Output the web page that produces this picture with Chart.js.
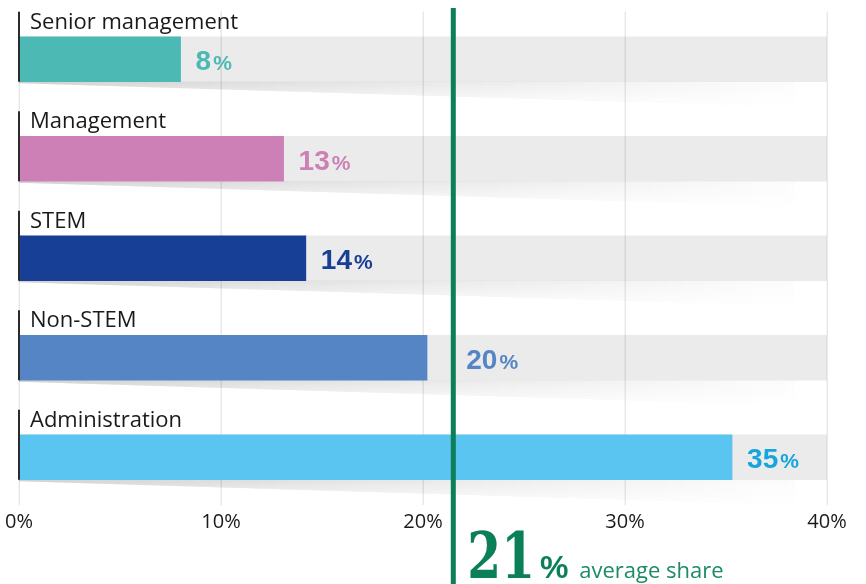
<!DOCTYPE html>
<html>
<head>
<meta charset="utf-8">
<script src="https://cdn.jsdelivr.net/npm/chart.js@4/dist/chart.umd.min.js"></script>
<style>
  html, body { margin: 0; padding: 0; background: #fff; }
  #wrap { width: 866px; height: 584px; position: relative; }
</style>
</head>
<body>
<div id="wrap"><canvas id="shareChart"></canvas></div>
<script>
// data
const categories = ['Senior management', 'Management', 'STEM', 'Non-STEM', 'Administration'];
const shares = [8, 13.1, 14.2, 20.2, 35.3];
const trackValues = [40, 40, 40, 40, 40];
const xTicks = [0, 10, 20, 30, 40];
const averageShare = 21.5;
const averageText = '21';

const barColors = ['#4db9b5', '#cd80b5', '#173f96', '#5585c4', '#5bc5f2'];
const valueColors = ['#4db9b5', '#cd80b5', '#173f96', '#5585c4', '#17a5de'];
const green = '#0b7f57';

const labelFont = '400 22px "Open Sans", sans-serif';

// draws shadows + gridlines after the grey track, labels and avg line on top
const decorPlugin = {
  id: 'decor',
  afterDatasetDraw(chart, args) {
    if (args.index !== 1) return;
    const ctx = chart.ctx;
    const x = chart.scales.x;
    const area = chart.chartArea;
    const meta = chart.getDatasetMeta(1);
    const shadowEnd = x.getPixelForValue(38.4);

    meta.data.forEach(bar => {
      const bottom = bar.y + bar.height / 2;
      const left = bar.base;
      ctx.save();
      ctx.beginPath();
      ctx.moveTo(left, bottom);
      ctx.lineTo(shadowEnd, bottom);
      ctx.lineTo(shadowEnd, bottom + 25);
      ctx.lineTo(left, bottom + 1.5);
      ctx.closePath();
      const g = ctx.createLinearGradient(left, 0, shadowEnd, 0);
      g.addColorStop(0, 'rgba(0,0,0,0.2)');
      g.addColorStop(0.5, 'rgba(0,0,0,0.1)');
      g.addColorStop(1, 'rgba(0,0,0,0.01)');
      ctx.fillStyle = g;
      ctx.fill();
      const v = ctx.createLinearGradient(0, bottom, 0, bottom + 25);
      v.addColorStop(0, 'rgba(255,255,255,0.1)');
      v.addColorStop(1, 'rgba(255,255,255,0.9)');
      ctx.fillStyle = v;
      ctx.fill();
      ctx.restore();
    });

    ctx.save();
    ctx.strokeStyle = 'rgba(0,0,0,0.09)';
    ctx.lineWidth = 1.5;
    xTicks.forEach(t => {
      const px = Math.round(x.getPixelForValue(t)) + 0.25;
      ctx.beginPath();
      ctx.moveTo(px, area.top + 2);
      ctx.lineTo(px, area.bottom - 2);
      ctx.stroke();
    });
    ctx.restore();
  },
  afterDraw(chart) {
    const ctx = chart.ctx;
    const x = chart.scales.x;
    const meta = chart.getDatasetMeta(0);
    const avgPx = x.getPixelForValue(averageShare);

    meta.data.forEach((bar, i) => {
      const top = bar.y - bar.height / 2;
      const bottom = bar.y + bar.height / 2;
      ctx.save();
      // dark rule left of the category label
      ctx.strokeStyle = '#2b2b2b';
      ctx.lineWidth = 2;
      ctx.beginPath();
      ctx.moveTo(bar.base, top - 25);
      ctx.lineTo(bar.base, bottom);
      ctx.stroke();

      ctx.fillStyle = '#1a1a1a';
      ctx.font = labelFont;
      ctx.textBaseline = 'alphabetic';
      ctx.fillText(categories[i], bar.base + 11, top - 8);

      // value label
      const num = String(Math.round(shares[i]));
      ctx.font = 'bold 28px "Liberation Sans", sans-serif';
      const nw = ctx.measureText(num).width;
      ctx.font = 'bold 21px "Liberation Sans", sans-serif';
      const pw = ctx.measureText('%').width;
      let lx = bar.x + 15;
      if (lx < avgPx + 6 && lx + nw + pw + 2 > avgPx - 6) lx = avgPx + 13;
      ctx.fillStyle = valueColors[i];
      ctx.font = 'bold 28px "Liberation Sans", sans-serif';
      ctx.fillText(num, lx, bar.y + 11);
      ctx.font = 'bold 21px "Liberation Sans", sans-serif';
      ctx.fillText('%', lx + nw + 2, bar.y + 11);
      ctx.restore();
    });

    // average line
    ctx.save();
    ctx.strokeStyle = green;
    ctx.lineWidth = 5;
    ctx.beginPath();
    ctx.moveTo(avgPx, 8);
    ctx.lineTo(avgPx, chart.height);
    ctx.stroke();

    ctx.fillStyle = green;
    ctx.textBaseline = 'alphabetic';
    ctx.save();
    ctx.translate(avgPx + 14, 578);
    ctx.scale(0.76, 1);
    ctx.font = 'bold 64px "DejaVu Serif", serif';
    ctx.fillText(averageText, 0, 0);
    const w21 = ctx.measureText(averageText).width * 0.76;
    ctx.restore();
    ctx.font = 'bold 32px "Liberation Sans", sans-serif';
    ctx.fillText('%', avgPx + 14 + w21 + 5, 578);
    ctx.fillStyle = '#1b8c63';
    ctx.font = '400 22px "Open Sans", sans-serif';
    ctx.fillText('average share', avgPx + 126, 578);
    ctx.restore();
  }
};

new Chart(document.getElementById('shareChart'), {
  type: 'bar',
  data: {
    labels: categories,
    datasets: [
      {
        data: shares,
        backgroundColor: barColors,
        barThickness: 45,
        grouped: false,
        order: 1
      },
      {
        data: trackValues,
        backgroundColor: '#ebebeb',
        barThickness: 45,
        grouped: false,
        order: 2
      }
    ]
  },
  options: {
    indexAxis: 'y',
    responsive: true,
    maintainAspectRatio: false,
    animation: false,
    layout: { padding: { top: 9.5, left: 19, right: 39, bottom: 47 } },
    plugins: {
      legend: { display: false },
      tooltip: { enabled: false }
    },
    scales: {
      x: {
        min: 0,
        max: 40,
        afterBuildTicks(axis) {
          axis.ticks = xTicks.map(v => ({ value: v }));
        },
        grid: { display: false, drawTicks: false },
        border: { display: false },
        ticks: {
          padding: 3,
          color: '#1a1a1a',
          font: { family: '"Open Sans", sans-serif', size: 20 },
          callback: v => v + '%'
        }
      },
      y: { display: false }
    }
  },
  plugins: [decorPlugin]
});
</script>
</body>
</html>
